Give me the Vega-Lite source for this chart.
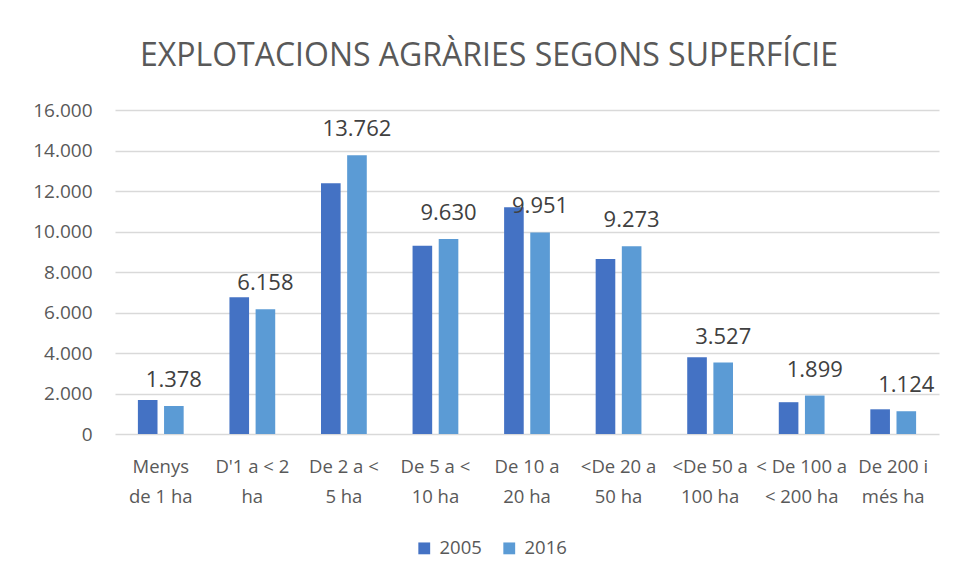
{
  "$schema": "https://vega.github.io/schema/vega-lite/v6.json",
  "width": 824,
  "height": 324,
  "autosize": {"type": "none"},
  "padding": {"left": 115, "top": 110, "right": 17, "bottom": 144},
  "background": "white",
  "config": {
    "locale": {"number": {"decimal": ",", "thousands": ".", "grouping": [3], "currency": ["", " €"]}},
    "font": "Open Sans",
    "view": {"stroke": null}
  },
  "title": {
    "text": "EXPLOTACIONS AGRÀRIES SEGONS SUPERFÍCIE",
    "font": "Open Sans",
    "fontSize": 32,
    "fontWeight": "normal",
    "color": "#595959",
    "anchor": "middle",
    "frame": "group",
    "dx": -38,
    "baseline": "alphabetic",
    "offset": 3
  },
  "data": {
    "values": [
      {"cat": "Menys|de 1 ha", "year": "2005", "value": 1680},
      {"cat": "Menys|de 1 ha", "year": "2016", "value": 1378},
      {"cat": "D'1 a < 2|ha", "year": "2005", "value": 6750},
      {"cat": "D'1 a < 2|ha", "year": "2016", "value": 6158},
      {"cat": "De 2 a <|5 ha", "year": "2005", "value": 12380},
      {"cat": "De 2 a <|5 ha", "year": "2016", "value": 13762},
      {"cat": "De 5 a <|10 ha", "year": "2005", "value": 9300},
      {"cat": "De 5 a <|10 ha", "year": "2016", "value": 9630},
      {"cat": "De 10 a|20 ha", "year": "2005", "value": 11200},
      {"cat": "De 10 a|20 ha", "year": "2016", "value": 9951},
      {"cat": "<De 20 a|50 ha", "year": "2005", "value": 8640},
      {"cat": "<De 20 a|50 ha", "year": "2016", "value": 9273},
      {"cat": "<De 50 a|100 ha", "year": "2005", "value": 3790},
      {"cat": "<De 50 a|100 ha", "year": "2016", "value": 3527},
      {"cat": "< De 100 a|< 200 ha", "year": "2005", "value": 1570},
      {"cat": "< De 100 a|< 200 ha", "year": "2016", "value": 1899},
      {"cat": "De 200 i|més ha", "year": "2005", "value": 1220},
      {"cat": "De 200 i|més ha", "year": "2016", "value": 1124}
    ]
  },
  "encoding": {
    "x": {
      "field": "cat",
      "type": "nominal",
      "sort": null,
      "scale": {"paddingInner": 0.5, "paddingOuter": 0.25},
      "axis": {
        "title": null,
        "labelAngle": 0,
        "labelExpr": "split(datum.label, '|')",
        "labelFont": "Open Sans",
        "labelFontSize": 18.5,
        "labelColor": "#595959",
        "labelPadding": 23,
        "labelLineHeight": 30,
        "labelOverlap": false,
        "labelLimit": 200,
        "ticks": false,
        "domain": false,
        "labelBaseline": "top"
      }
    },
    "xOffset": {"field": "year", "type": "nominal", "scale": {"paddingInner": 0.25}},
    "y": {
      "field": "value",
      "type": "quantitative",
      "scale": {"domain": [0, 16000], "nice": false},
      "axis": {
        "title": null,
        "values": [0, 2000, 4000, 6000, 8000, 10000, 12000, 14000, 16000],
        "format": ",.0f",
        "labelFont": "Open Sans",
        "labelFontSize": 19,
        "labelColor": "#595959",
        "labelPadding": 23,
        "ticks": false,
        "domain": false,
        "gridColor": "#d9d9d9",
        "gridWidth": 1.5
      }
    }
  },
  "layer": [
    {
      "mark": {"type": "bar"},
      "encoding": {
        "color": {
          "field": "year",
          "type": "nominal",
          "scale": {"domain": ["2005", "2016"], "range": ["#4472C4", "#5B9BD5"]},
          "legend": {
            "title": null,
            "orient": "none",
            "direction": "horizontal",
            "legendX": 300,
            "legendY": 429,
            "symbolType": "square",
            "symbolSize": 140,
            "symbolStrokeWidth": 0,
            "labelFont": "Open Sans",
            "labelFontSize": 18.5,
            "labelColor": "#595959",
            "labelOffset": 6,
            "columnPadding": 18
          }
        }
      }
    },
    {
      "transform": [{"filter": "datum.year == '2016'"}],
      "mark": {"type": "text", "baseline": "middle", "dy": -26, "fontSize": 22, "font": "Open Sans", "color": "#404040"},
      "encoding": {
        "text": {"field": "value", "type": "quantitative", "format": ",.0f"}
      }
    }
  ]
}
